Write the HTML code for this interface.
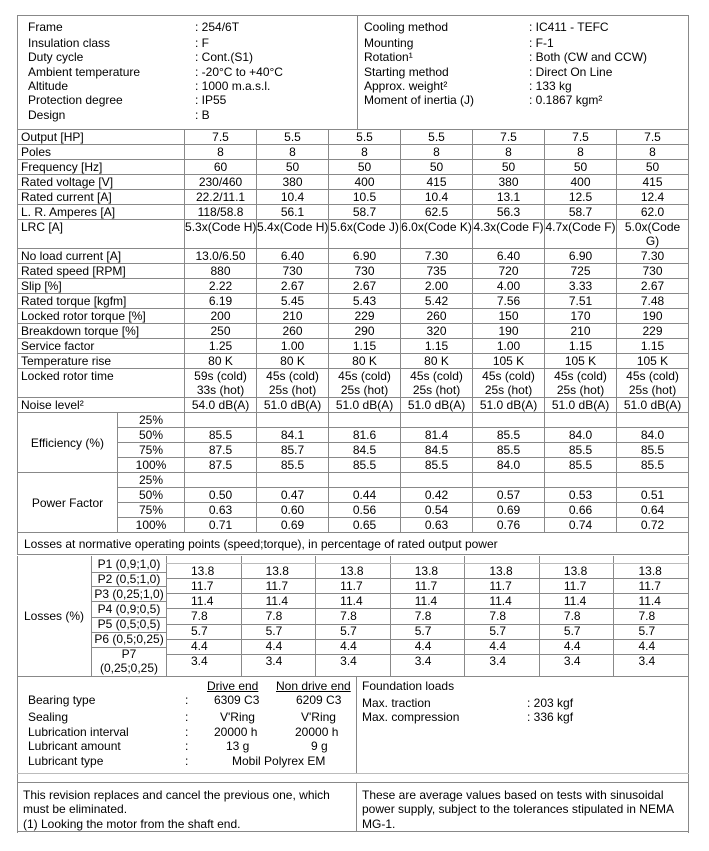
<!DOCTYPE html>
<html><head><meta charset="utf-8"><style>
*{margin:0;padding:0;box-sizing:border-box}
body{width:709px;height:851px;background:#fff;position:relative;font-family:"Liberation Sans",Arial,sans-serif;font-size:12px;color:#000;overflow:hidden}
.a{position:absolute;white-space:nowrap;line-height:14px}
.h{position:absolute;height:1px;background:#888}
.v{position:absolute;width:1px;background:#888}
table{position:absolute;left:17px;top:129px;border-collapse:collapse;table-layout:fixed;width:672px}
td{border:1px solid #888;padding:0;line-height:14px;text-align:center;vertical-align:top;white-space:nowrap;overflow:visible}
td.l{text-align:left;padding-left:3px}
tr{height:15px}
tr.d{height:29px}
td.m{vertical-align:middle}
</style></head><body>
<div class="h" style="left:17px;top:15px;width:672px"></div>
<div class="v" style="left:17px;top:15px;height:115px"></div>
<div class="v" style="left:688px;top:15px;height:115px"></div>
<div class="v" style="left:357px;top:15px;height:115px"></div>
<div class="a" style="left:28px;top:20px">Frame</div><div class="a" style="left:195px;top:20px">: 254/6T</div>
<div class="a" style="left:28px;top:36px">Insulation class</div><div class="a" style="left:195px;top:36px">: F</div>
<div class="a" style="left:28px;top:50px">Duty cycle</div><div class="a" style="left:195px;top:50px">: Cont.(S1)</div>
<div class="a" style="left:28px;top:65px">Ambient temperature</div><div class="a" style="left:195px;top:65px">: -20°C to +40°C</div>
<div class="a" style="left:28px;top:79px">Altitude</div><div class="a" style="left:195px;top:79px">: 1000 m.a.s.l.</div>
<div class="a" style="left:28px;top:93px">Protection degree</div><div class="a" style="left:195px;top:93px">: IP55</div>
<div class="a" style="left:28px;top:108px">Design</div><div class="a" style="left:195px;top:108px">: B</div>
<div class="a" style="left:364px;top:20px">Cooling method</div><div class="a" style="left:529px;top:20px">: IC411 - TEFC</div>
<div class="a" style="left:364px;top:36px">Mounting</div><div class="a" style="left:529px;top:36px">: F-1</div>
<div class="a" style="left:364px;top:50px">Rotation¹</div><div class="a" style="left:529px;top:50px">: Both (CW and CCW)</div>
<div class="a" style="left:364px;top:65px">Starting method</div><div class="a" style="left:529px;top:65px">: Direct On Line</div>
<div class="a" style="left:364px;top:79px">Approx. weight²</div><div class="a" style="left:529px;top:79px">: 133 kg</div>
<div class="a" style="left:364px;top:93px">Moment of inertia (J)</div><div class="a" style="left:529px;top:93px">: 0.1867 kgm²</div>

<table>
<colgroup><col style="width:100px"><col style="width:67px"><col style="width:72px"><col style="width:72px"><col style="width:72px"><col style="width:72px"><col style="width:72px"><col style="width:72px"><col style="width:72px"></colgroup>
<tr><td class="l" colspan="2">Output [HP]</td><td>7.5</td><td>5.5</td><td>5.5</td><td>5.5</td><td>7.5</td><td>7.5</td><td>7.5</td></tr>
<tr><td class="l" colspan="2">Poles</td><td>8</td><td>8</td><td>8</td><td>8</td><td>8</td><td>8</td><td>8</td></tr>
<tr><td class="l" colspan="2">Frequency [Hz]</td><td>60</td><td>50</td><td>50</td><td>50</td><td>50</td><td>50</td><td>50</td></tr>
<tr><td class="l" colspan="2">Rated voltage [V]</td><td>230/460</td><td>380</td><td>400</td><td>415</td><td>380</td><td>400</td><td>415</td></tr>
<tr><td class="l" colspan="2">Rated current [A]</td><td>22.2/11.1</td><td>10.4</td><td>10.5</td><td>10.4</td><td>13.1</td><td>12.5</td><td>12.4</td></tr>
<tr><td class="l" colspan="2">L. R. Amperes [A]</td><td>118/58.8</td><td>56.1</td><td>58.7</td><td>62.5</td><td>56.3</td><td>58.7</td><td>62.0</td></tr>
<tr class="d"><td class="l" colspan="2">LRC [A]</td><td>5.3x(Code H)</td><td>5.4x(Code H)</td><td>5.6x(Code J)</td><td>6.0x(Code K)</td><td>4.3x(Code F)</td><td>4.7x(Code F)</td><td>5.0x(Code<br>G)</td></tr>
<tr><td class="l" colspan="2">No load current [A]</td><td>13.0/6.50</td><td>6.40</td><td>6.90</td><td>7.30</td><td>6.40</td><td>6.90</td><td>7.30</td></tr>
<tr><td class="l" colspan="2">Rated speed [RPM]</td><td>880</td><td>730</td><td>730</td><td>735</td><td>720</td><td>725</td><td>730</td></tr>
<tr><td class="l" colspan="2">Slip [%]</td><td>2.22</td><td>2.67</td><td>2.67</td><td>2.00</td><td>4.00</td><td>3.33</td><td>2.67</td></tr>
<tr><td class="l" colspan="2">Rated torque [kgfm]</td><td>6.19</td><td>5.45</td><td>5.43</td><td>5.42</td><td>7.56</td><td>7.51</td><td>7.48</td></tr>
<tr><td class="l" colspan="2">Locked rotor torque [%]</td><td>200</td><td>210</td><td>229</td><td>260</td><td>150</td><td>170</td><td>190</td></tr>
<tr><td class="l" colspan="2">Breakdown torque [%]</td><td>250</td><td>260</td><td>290</td><td>320</td><td>190</td><td>210</td><td>229</td></tr>
<tr><td class="l" colspan="2">Service factor</td><td>1.25</td><td>1.00</td><td>1.15</td><td>1.15</td><td>1.00</td><td>1.15</td><td>1.15</td></tr>
<tr><td class="l" colspan="2">Temperature rise</td><td>80 K</td><td>80 K</td><td>80 K</td><td>80 K</td><td>105 K</td><td>105 K</td><td>105 K</td></tr>
<tr class="d"><td class="l" colspan="2">Locked rotor time</td><td>59s (cold)<br>33s (hot)</td><td>45s (cold)<br>25s (hot)</td><td>45s (cold)<br>25s (hot)</td><td>45s (cold)<br>25s (hot)</td><td>45s (cold)<br>25s (hot)</td><td>45s (cold)<br>25s (hot)</td><td>45s (cold)<br>25s (hot)</td></tr>
<tr><td class="l" colspan="2">Noise level²</td><td>54.0 dB(A)</td><td>51.0 dB(A)</td><td>51.0 dB(A)</td><td>51.0 dB(A)</td><td>51.0 dB(A)</td><td>51.0 dB(A)</td><td>51.0 dB(A)</td></tr>
<tr><td class="m" rowspan="4">Efficiency (%)</td><td>25%</td><td></td><td></td><td></td><td></td><td></td><td></td><td></td></tr>
<tr><td>50%</td><td>85.5</td><td>84.1</td><td>81.6</td><td>81.4</td><td>85.5</td><td>84.0</td><td>84.0</td></tr>
<tr><td>75%</td><td>87.5</td><td>85.7</td><td>84.5</td><td>84.5</td><td>85.5</td><td>85.5</td><td>85.5</td></tr>
<tr><td>100%</td><td>87.5</td><td>85.5</td><td>85.5</td><td>85.5</td><td>84.0</td><td>85.5</td><td>85.5</td></tr>
<tr><td class="m" rowspan="4">Power Factor</td><td>25%</td><td></td><td></td><td></td><td></td><td></td><td></td><td></td></tr>
<tr><td>50%</td><td>0.50</td><td>0.47</td><td>0.44</td><td>0.42</td><td>0.57</td><td>0.53</td><td>0.51</td></tr>
<tr><td>75%</td><td>0.63</td><td>0.60</td><td>0.56</td><td>0.54</td><td>0.69</td><td>0.66</td><td>0.64</td></tr>
<tr><td>100%</td><td>0.71</td><td>0.69</td><td>0.65</td><td>0.63</td><td>0.76</td><td>0.74</td><td>0.72</td></tr>
<tr style="height:22px"><td class="l m" colspan="9" style="padding-left:6px">Losses at normative operating points (speed;torque), in percentage of rated output power</td></tr>
</table>

<div class="v" style="left:17px;top:556px;height:121px"></div>
<div class="v" style="left:688px;top:556px;height:121px"></div>
<div class="h" style="left:17px;top:676px;width:672px"></div>
<div class="v" style="left:91px;top:556px;height:120px"></div>
<div class="v" style="left:166px;top:556px;height:120px"></div>
<div class="h" style="left:91px;top:572px;width:75px"></div>
<div class="h" style="left:91px;top:586px;width:75px"></div>
<div class="h" style="left:91px;top:601px;width:75px"></div>
<div class="h" style="left:91px;top:617px;width:75px"></div>
<div class="h" style="left:91px;top:632px;width:75px"></div>
<div class="h" style="left:91px;top:647px;width:75px"></div>
<div class="a" style="left:24px;top:609px">Losses (%)</div>
<div class="a" style="left:92px;top:557px;width:74px;text-align:center">P1 (0,9;1,0)</div>
<div class="a" style="left:92px;top:572px;width:74px;text-align:center">P2 (0,5;1,0)</div>
<div class="a" style="left:92px;top:587px;width:74px;text-align:center">P3 (0,25;1,0)</div>
<div class="a" style="left:92px;top:602px;width:74px;text-align:center">P4 (0,9;0,5)</div>
<div class="a" style="left:92px;top:617px;width:74px;text-align:center">P5 (0,5;0,5)</div>
<div class="a" style="left:92px;top:632px;width:74px;text-align:center">P6 (0,5;0,25)</div>
<div class="a" style="left:92px;top:647px;width:74px;text-align:center">P7</div>
<div class="a" style="left:92px;top:661px;width:74px;text-align:center">(0,25;0,25)</div>
<div class="v" style="left:241px;top:556px;height:120px"></div>
<div class="v" style="left:315px;top:556px;height:120px"></div>
<div class="v" style="left:390px;top:556px;height:120px"></div>
<div class="v" style="left:464px;top:556px;height:120px"></div>
<div class="v" style="left:539px;top:556px;height:120px"></div>
<div class="v" style="left:613px;top:556px;height:120px"></div>
<div class="h" style="left:166px;top:563px;width:522px;background:#bbb"></div>
<div class="h" style="left:166px;top:578px;width:522px"></div>
<div class="h" style="left:166px;top:593px;width:522px"></div>
<div class="h" style="left:166px;top:608px;width:522px"></div>
<div class="h" style="left:166px;top:624px;width:522px"></div>
<div class="h" style="left:166px;top:639px;width:522px"></div>
<div class="h" style="left:166px;top:654px;width:522px"></div>
<div class="a" style="left:166px;top:564px;width:522px;display:flex">
<div style="width:74.6px;padding-left:25px;line-height:15px">13.8<br>11.7<br>11.4<br>7.8<br>5.7<br>4.4<br>3.4</div>
<div style="width:74.6px;padding-left:25px;line-height:15px">13.8<br>11.7<br>11.4<br>7.8<br>5.7<br>4.4<br>3.4</div>
<div style="width:74.6px;padding-left:25px;line-height:15px">13.8<br>11.7<br>11.4<br>7.8<br>5.7<br>4.4<br>3.4</div>
<div style="width:74.6px;padding-left:25px;line-height:15px">13.8<br>11.7<br>11.4<br>7.8<br>5.7<br>4.4<br>3.4</div>
<div style="width:74.6px;padding-left:25px;line-height:15px">13.8<br>11.7<br>11.4<br>7.8<br>5.7<br>4.4<br>3.4</div>
<div style="width:74.6px;padding-left:25px;line-height:15px">13.8<br>11.7<br>11.4<br>7.8<br>5.7<br>4.4<br>3.4</div>
<div style="width:74.6px;padding-left:25px;line-height:15px">13.8<br>11.7<br>11.4<br>7.8<br>5.7<br>4.4<br>3.4</div>
</div>

<div class="v" style="left:17px;top:676px;height:157px"></div>
<div class="v" style="left:688px;top:676px;height:157px"></div>
<div class="v" style="left:356px;top:676px;height:97px"></div>
<div class="h" style="left:17px;top:773px;width:672px;background:#bbb"></div>
<div class="h" style="left:17px;top:782px;width:672px"></div>
<div class="v" style="left:356px;top:782px;height:50px"></div>
<div class="h" style="left:17px;top:831px;width:672px"></div>
<div class="a" style="left:207px;top:679px;text-decoration:underline">Drive end</div>
<div class="a" style="left:276px;top:679px;text-decoration:underline">Non drive end</div>
<div class="a" style="left:28px;top:693px">Bearing type</div><div class="a" style="left:185px;top:693px">:</div>
<div class="a" style="left:214px;top:693px">6309 C3</div><div class="a" style="left:296px;top:693px">6209 C3</div>
<div class="a" style="left:28px;top:710px">Sealing</div><div class="a" style="left:185px;top:710px">:</div>
<div class="a" style="left:220px;top:710px">V'Ring</div><div class="a" style="left:301px;top:710px">V'Ring</div>
<div class="a" style="left:28px;top:725px">Lubrication interval</div><div class="a" style="left:185px;top:725px">:</div>
<div class="a" style="left:214px;top:725px">20000 h</div><div class="a" style="left:295px;top:725px">20000 h</div>
<div class="a" style="left:28px;top:739px">Lubricant amount</div><div class="a" style="left:185px;top:739px">:</div>
<div class="a" style="left:226px;top:739px">13 g</div><div class="a" style="left:311px;top:739px">9 g</div>
<div class="a" style="left:28px;top:754px">Lubricant type</div><div class="a" style="left:185px;top:754px">:</div>
<div class="a" style="left:232px;top:754px">Mobil Polyrex EM</div>
<div class="a" style="left:362px;top:679px">Foundation loads</div>
<div class="a" style="left:362px;top:696px">Max. traction</div><div class="a" style="left:527px;top:696px">: 203 kgf</div>
<div class="a" style="left:362px;top:710px">Max. compression</div><div class="a" style="left:527px;top:710px">: 336 kgf</div>
<div class="a" style="left:23px;top:788px">This revision replaces and cancel the previous one, which</div>
<div class="a" style="left:23px;top:802px">must be eliminated.</div>
<div class="a" style="left:23px;top:817px">(1) Looking the motor from the shaft end.</div>
<div class="a" style="left:362px;top:788px">These are average values based on tests with sinusoidal</div>
<div class="a" style="left:362px;top:802px">power supply, subject to the tolerances stipulated in NEMA</div>
<div class="a" style="left:362px;top:817px">MG-1.</div>
</body></html>
